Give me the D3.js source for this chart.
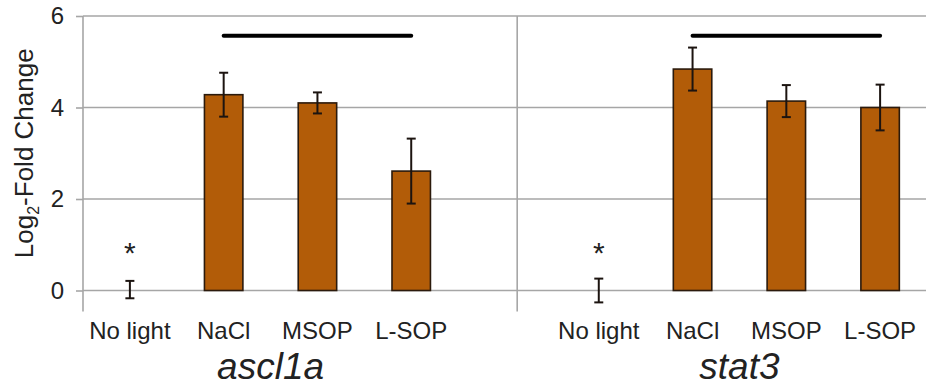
<!DOCTYPE html>
<html>
<head>
<meta charset="utf-8">
<script src="https://cdn.jsdelivr.net/npm/d3@7"></script>
<style>
  body { margin: 0; background: #fff; }
  svg { display: block; font-family: "Liberation Sans", Arial, sans-serif; }
</style>
</head>
<body>
<div id="chart"></div>
<script>
// data
const genes = ['ascl1a', 'stat3'];
const conditions = ['No light', 'NaCl', 'MSOP', 'L-SOP'];
const ascl1aMean = [0.02, 4.28, 4.10, 2.61];
const ascl1aErr = [0.19, 0.48, 0.23, 0.71];
const stat3Mean = [0.0, 4.84, 4.14, 4.00];
const stat3Err = [0.26, 0.47, 0.35, 0.50];
const yTicks = [0, 2, 4, 6];
const sigLevel = 5.57;   // black bar NaCl..L-SOP
const starLevel = 0.93;  // asterisk above "No light"

const width = 926, height = 390;
const svg = d3.select('#chart').append('svg')
    .attr('width', width)
    .attr('height', height);

// one slot per bar, plus an empty slot between the two genes
const slots = [];
genes.forEach((g, gi) => {
    if (gi > 0) slots.push('gap' + gi);
    conditions.forEach(c => slots.push(g + '|' + c));
});

const x = d3.scaleBand().domain(slots).range([83, 927]).paddingInner(0).paddingOuter(0);
const y = d3.scaleLinear().domain([0, 6]).range([290.5, 16]);
const bw = x.bandwidth() * 0.41;

const rows = [];
genes.forEach((g, gi) => {
    const means = gi === 0 ? ascl1aMean : stat3Mean;
    const errs = gi === 0 ? ascl1aErr : stat3Err;
    conditions.forEach((c, ci) => {
        rows.push({gene: g, cond: c, key: g + '|' + c, mean: means[ci], err: errs[ci]});
    });
});

// gridlines
svg.append('g')
    .selectAll('line')
    .data(yTicks)
    .enter()
    .append('line')
    .attr('x1', 83).attr('x2', width)
    .attr('y1', d => y(d)).attr('y2', d => y(d))
    .attr('stroke', '#a6a6a6')
    .attr('stroke-width', 1.6);

// y axis
const yAxis = svg.append('g')
    .attr('transform', 'translate(83,0)')
    .call(d3.axisLeft(y).tickValues(yTicks).tickSize(7).tickPadding(12).tickFormat(d3.format('d')));
yAxis.select('.domain').remove();
yAxis.selectAll('.tick line').attr('stroke', '#a6a6a6').attr('stroke-width', 1.6);
yAxis.selectAll('.tick text')
    .attr('font-size', 24)
    .attr('font-family', '"Liberation Sans", Arial, sans-serif')
    .attr('fill', '#222');

svg.append('line')
    .attr('x1', 83).attr('x2', 83)
    .attr('y1', y(6)).attr('y2', y(0) + 21)
    .attr('stroke', '#a6a6a6').attr('stroke-width', 1.6);

// divider between genes
const divX = x('gap1') + x.bandwidth() * 0.63;
svg.append('line')
    .attr('x1', divX).attr('x2', divX)
    .attr('y1', y(6)).attr('y2', y(0) + 21)
    .attr('stroke', '#a6a6a6').attr('stroke-width', 1.6);

// bars
svg.append('g')
    .selectAll('rect')
    .data(rows.filter(d => d.cond !== 'No light'))
    .enter()
    .append('rect')
    .attr('x', d => x(d.key) + x.bandwidth() / 2 - bw / 2)
    .attr('y', d => y(d.mean))
    .attr('width', bw)
    .attr('height', d => y(0) - y(d.mean))
    .attr('fill', '#b25c08')
    .attr('stroke', '#2b1a0c')
    .attr('stroke-width', 1.6);

// error bars
const eb = svg.append('g')
    .selectAll('g')
    .data(rows)
    .enter()
    .append('g')
    .attr('stroke', '#1c1410')
    .attr('stroke-width', 2);
eb.append('line')
    .attr('x1', d => x(d.key) + x.bandwidth() / 2)
    .attr('x2', d => x(d.key) + x.bandwidth() / 2)
    .attr('y1', d => y(d.mean + d.err))
    .attr('y2', d => y(d.mean - d.err));
[1, -1].forEach(s => {
    eb.append('line')
        .attr('x1', d => x(d.key) + x.bandwidth() / 2 - 4.5)
        .attr('x2', d => x(d.key) + x.bandwidth() / 2 + 4.5)
        .attr('y1', d => y(d.mean + s * d.err))
        .attr('y2', d => y(d.mean + s * d.err));
});

// significance bars
svg.append('g')
    .selectAll('line')
    .data(genes)
    .enter()
    .append('line')
    .attr('x1', g => x(g + '|NaCl') + x.bandwidth() / 2)
    .attr('x2', g => x(g + '|L-SOP') + x.bandwidth() / 2)
    .attr('y1', y(sigLevel)).attr('y2', y(sigLevel))
    .attr('stroke', '#000')
    .attr('stroke-width', 4)
    .attr('stroke-linecap', 'round');

// asterisks
svg.append('g')
    .selectAll('text')
    .data(genes)
    .enter()
    .append('text')
    .attr('x', g => x(g + '|No light') + x.bandwidth() / 2)
    .attr('y', y(starLevel))
    .attr('dy', '0.5em')
    .attr('text-anchor', 'middle')
    .attr('font-size', 30)
    .attr('fill', '#222')
    .text('*');

// category labels
svg.append('g')
    .selectAll('text')
    .data(rows)
    .enter()
    .append('text')
    .attr('x', d => x(d.key) + x.bandwidth() / 2)
    .attr('y', 339)
    .attr('text-anchor', 'middle')
    .attr('font-size', 24)
    .attr('fill', '#222')
    .text(d => d.cond);

// gene labels
svg.append('g')
    .selectAll('text')
    .data(genes)
    .enter()
    .append('text')
    .attr('x', g => (x(g + '|No light') + x(g + '|L-SOP') + x.bandwidth()) / 2)
    .attr('y', 379)
    .attr('text-anchor', 'middle')
    .attr('font-size', 37)
    .attr('font-style', 'italic')
    .attr('fill', '#222')
    .text(g => g);

// y label
const yl = svg.append('text')
    .attr('transform', `translate(33,${(y(0) + y(6)) / 2}) rotate(-90)`)
    .attr('text-anchor', 'middle')
    .attr('font-size', 26)
    .attr('fill', '#222');
yl.append('tspan').text('Log');
yl.append('tspan').attr('font-size', 16).attr('dy', 6).text('2');
yl.append('tspan').attr('dy', -6).text('-Fold Change');
</script>
</body>
</html>
